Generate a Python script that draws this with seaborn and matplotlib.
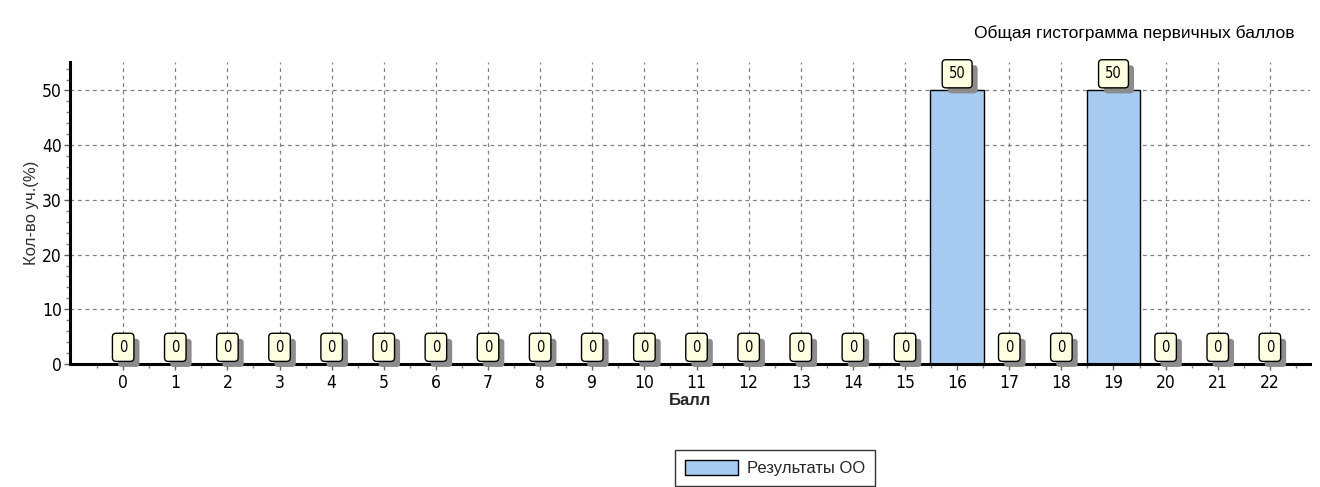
import matplotlib
matplotlib.use("Agg")
import matplotlib.pyplot as plt
import matplotlib.patheffects as pe
import seaborn as sns
import pandas as pd
from matplotlib.patches import Patch

# Score distribution data
scores = list(range(23))
percent = [0, 0, 0, 0, 0, 0, 0, 0, 0, 0, 0, 0, 0, 0, 0, 0, 50, 0, 0, 50, 0, 0, 0]
title = "Общая гистограмма первичных баллов"
y_label = "Кол-во уч.(%)"
x_label = "Балл"
series_name = "Результаты ОО"

sns.set_theme(style="white")
plt.rcParams["font.family"] = ["Liberation Sans", "DejaVu Sans"]
narrow_family = ["DejaVu Sans", "Liberation Sans"]

df = pd.DataFrame({"score": [str(s) for s in scores], "value": percent})

fig = plt.figure(figsize=(13.2, 4.87), dpi=100)
ax = fig.add_axes([70 / 1320, 1 - 364 / 487, 1240 / 1320, (364 - 62) / 487])

sns.barplot(data=df, x="score", y="value", ax=ax, color="#A6CAF0",
            saturation=1, width=1.03, edgecolor="black", linewidth=1.0, zorder=3)

ax.set_xlim(-1.02, 22.77)
ax.set_ylim(0, 55.2)
ax.set_yticks(range(0, 51, 10))
ax.set_yticks(range(0, 55, 2), minor=True)
ax.set_xticks([i - 0.5 for i in range(0, 24)], minor=True)

ax.grid(True, which="major", linestyle=(0, (3, 3)), color="#808080", linewidth=0.9, zorder=0)
for side in ("top", "right"):
    ax.spines[side].set_visible(False)
for side in ("left", "bottom"):
    ax.spines[side].set_linewidth(2.2)
    ax.spines[side].set_color("black")
    ax.spines[side].set_zorder(5)

ax.tick_params(axis="both", which="major", direction="out", length=4, width=1,
               color="#606060", labelsize=12.5, left=True, bottom=True)
ax.tick_params(axis="x", which="major", pad=3)
ax.tick_params(axis="y", which="major", pad=2)
ax.tick_params(axis="both", which="minor", direction="out", length=3, width=1,
               color="#808080", left=True, bottom=True)
for lbl in ax.get_xticklabels() + ax.get_yticklabels():
    lbl.set_family(narrow_family)
    lbl.set_fontstretch("condensed")
    lbl.set_color("black")

ax.set_xlabel(x_label, fontsize=12, fontweight="bold", labelpad=1)
ax.set_ylabel(y_label, fontsize=12, color="#303030", labelpad=2)

# Value callouts above each bar, boxed with a drop shadow
shadow = [pe.SimplePatchShadow(offset=(4, -4), shadow_rgbFace="#8C8C8C", alpha=1.0),
          pe.Normal()]
for i, v in enumerate(percent):
    ann = ax.annotate(f"{v}", xy=(i, v), xytext=(0, 12), textcoords="offset points",
                      ha="center", va="center", fontsize=10.5, color="black",
                      family=narrow_family, fontstretch="condensed",
                      zorder=7, annotation_clip=False,
                      bbox=dict(boxstyle="round,pad=0.45,rounding_size=0.25",
                                fc="#FFFFE1", ec="black", lw=1.0))
    ann.get_bbox_patch().set_path_effects(shadow)

fig.text(1295 / 1320, 1 - 33 / 487, title, ha="right", va="center",
         fontsize=12.5, color="black")

handle = Patch(facecolor="#A6CAF0", edgecolor="black", linewidth=1.0)
leg = fig.legend([handle], [series_name], loc="upper left",
                 bbox_to_anchor=(675 / 1320, 1 - 450 / 487),
                 frameon=True, fancybox=False, fontsize=12,
                 handlelength=3.2, handleheight=1.0, handletextpad=0.5,
                 borderpad=0.6, borderaxespad=0)
leg.get_frame().set_edgecolor("black")
leg.get_frame().set_linewidth(1.0)

fig.savefig("out.png", dpi=100)
